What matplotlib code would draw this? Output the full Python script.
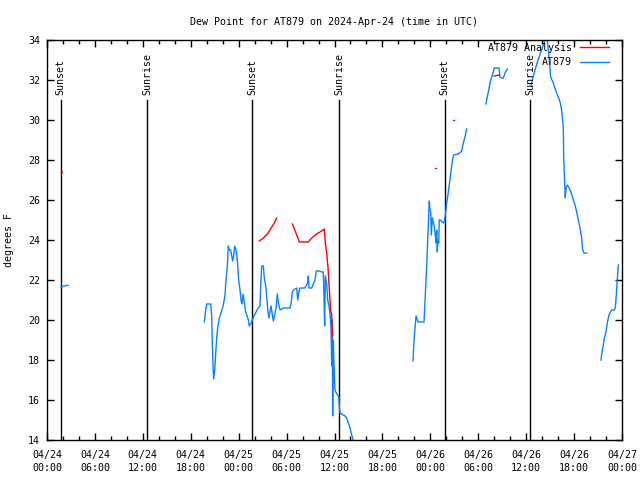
import numpy as np
import pandas as pd
import matplotlib
matplotlib.use('Agg')
import matplotlib.pyplot as plt
import matplotlib.dates as mdates

# Dew point at station AT879, hours are counted from 2024-04-24 00:00 UTC.
# Gaps in the record are kept as separate pieces.
start = pd.Timestamp('2024-04-24 00:00')

obs_hours = [
    [1.75, 2.2, 2.65],
    [19.70, 19.87, 20.00, 20.50, 20.62, 20.70, 20.79, 20.87, 21.00, 21.12,
     21.25, 21.37, 21.58, 21.83, 22.08, 22.29, 22.41, 22.58, 22.70, 22.83,
     23.00, 23.13, 23.25, 23.38, 23.50, 23.67, 23.83, 24.00, 24.17, 24.29,
     24.42, 24.54, 24.67, 24.83, 25.01, 25.21, 25.33, 25.51, 25.71, 25.92,
     26.17, 26.46, 26.67, 26.76, 26.88, 27.09, 27.21, 27.39, 27.55, 27.67,
     27.80, 27.92, 28.05, 28.17, 28.34, 28.51, 28.68, 28.84, 28.96, 29.18,
     29.59, 30.43, 30.55, 30.72, 30.89, 31.27, 31.39, 31.52, 31.68, 32.02,
     32.27, 32.64, 32.72, 32.81, 33.15, 33.35, 33.56, 33.72, 34.10, 34.40,
     34.60, 34.69, 34.77, 34.85, 35.02, 35.15, 35.31, 35.44, 35.56, 35.65,
     35.73, 35.77, 35.85, 35.94, 36.06, 36.28, 36.53, 36.60, 36.69, 36.90,
     37.32, 37.53, 37.73, 37.94, 38.15, 38.28, 38.44],
    [45.83, 45.96, 46.21, 46.46, 47.21, 47.46, 47.55, 47.67, 47.80, 47.87,
     47.96, 48.05, 48.12, 48.25, 48.37, 48.50, 48.62, 48.71, 48.80, 48.87,
     48.96, 49.05, 49.12, 49.30, 49.46, 49.67, 49.80, 49.92, 50.05, 50.17,
     50.30, 50.42, 50.55, 50.67, 50.80, 50.92, 51.50, 51.93, 52.13, 52.34,
     52.55],
    [54.97, 55.13, 55.31, 55.47, 55.68, 55.89, 56.01, 56.60, 56.72, 56.94,
     57.14, 57.35, 57.64],
    [60.61, 61.11, 61.48, 62.11, 62.57, 62.90, 63.07, 63.40, 63.61, 63.82,
     64.07, 64.24, 64.40, 64.53, 64.65, 64.70, 64.83, 64.90, 64.99, 65.15,
     65.40, 65.65, 65.90, 66.11, 66.33, 66.53, 66.74, 66.95, 67.08, 67.24,
     67.58],
    [69.37, 69.50, 69.66, 69.79, 69.96, 70.09, 70.21, 70.37, 70.50, 70.71,
     71.04, 71.17, 71.29, 71.41, 71.54],
]
obs_dewpt = [
    [21.65, 21.7, 21.75],
    [19.9, 20.5, 20.8, 20.8, 20.2, 18.9, 17.7, 17.05, 17.5, 18.3,
     19.1, 19.6, 20.1, 20.4, 20.75, 21.25, 22.0, 22.7, 23.7, 23.5,
     23.5, 23.2, 22.95, 23.25, 23.7, 23.5, 23.0, 22.0, 21.5, 21.0,
     20.8, 21.3, 21.0, 20.5, 20.25, 20.0, 19.7, 19.8, 20.0, 20.2,
     20.4, 20.6, 20.7, 21.7, 22.7, 22.7, 22.1, 21.7, 21.0, 20.4,
     20.1, 20.4, 20.7, 20.4, 19.95, 20.25, 20.6, 21.3, 20.9, 20.5,
     20.6, 20.6, 20.8, 21.4, 21.5, 21.6, 21.0, 21.4, 21.6, 21.6,
     21.6, 21.85, 22.2, 21.6, 21.6, 21.8, 22.0, 22.45, 22.45, 22.4,
     22.4, 21.05, 19.7, 22.2, 21.8, 21.0, 20.7, 20.3, 19.7, 17.7,
     20.0, 15.2, 19.0, 17.7, 16.5, 16.3, 16.2, 15.7, 15.35, 15.3,
     15.2, 15.1, 14.85, 14.6, 14.25, 14.1, 13.8],
    [17.95, 19.0, 20.2, 19.9, 19.9, 22.0, 22.75, 24.0, 25.25, 25.95,
     25.5, 25.4, 24.25, 25.1, 24.9, 24.65, 24.25, 23.85, 24.5, 23.4,
     24.0, 23.85, 25.0, 25.0, 24.9, 24.85, 25.0, 25.4, 25.85, 26.15,
     26.55, 26.9, 27.3, 27.7, 28.05, 28.25, 28.3, 28.45, 28.85, 29.15,
     29.55],
    [30.8, 31.15, 31.5, 31.85, 32.15, 32.4, 32.6, 32.6, 32.15, 32.1,
     32.1, 32.35, 32.55],
    [31.75, 32.5, 33.0, 33.7, 34.3, 33.0, 32.15, 31.85, 31.6, 31.35,
     31.1, 30.9, 30.6, 30.15, 29.6, 28.15, 26.75, 26.1, 26.6, 26.75,
     26.6, 26.35, 26.0, 25.75, 25.4, 25.0, 24.6, 24.1, 23.5, 23.35,
     23.35],
    [18.0, 18.4, 18.75, 19.1, 19.35, 19.65, 19.95, 20.25, 20.35, 20.5,
     20.5, 20.65, 21.25, 22.0, 22.75],
]

ana_hours = [
    [1.75, 1.9],
    [26.58, 27.09, 27.59, 27.84, 28.14, 28.46, 28.76],
    [30.72, 30.97, 31.27, 31.59, 32.72, 33.15, 33.77, 34.40, 34.72, 34.85,
     35.02, 35.19, 35.31, 35.44, 35.52, 35.65, 35.73, 35.77],
    [48.62, 48.75],
    [50.82, 50.94],
    [55.97, 56.64],
]
ana_dewpt = [
    [27.4, 27.4],
    [23.95, 24.1, 24.3, 24.45, 24.65, 24.85, 25.1],
    [24.8, 24.55, 24.25, 23.9, 23.9, 24.1, 24.3, 24.45, 24.55, 23.85,
     23.35, 22.6, 21.8, 21.0, 20.5, 20.25, 19.5, 19.2],
    [27.6, 27.6],
    [30.0, 30.0],
    [32.2, 32.25],
]

sun_hours = [1.72, 12.56, 25.70, 36.60, 49.80, 60.50]
sun_names = ['Sunset', 'Sunrise', 'Sunset', 'Sunrise', 'Sunset', 'Sunrise']


def to_time(h):
    return start + pd.to_timedelta(np.asarray(h), unit='h')


font = 'DejaVu Sans Mono'
fs = 7.2
blue = '#0a80ff'

fig = plt.figure(figsize=(6.4, 4.8), dpi=100)
ax = fig.add_axes([47 / 640, 40 / 480, 575 / 640, 400 / 480])

for i, (h, v) in enumerate(zip(ana_hours, ana_dewpt)):
    ax.plot(to_time(h), v, color='red', lw=1,
            label='AT879 Analysis' if i == 0 else None, zorder=3)
for i, (h, v) in enumerate(zip(obs_hours, obs_dewpt)):
    ax.plot(to_time(h), v, color=blue, lw=1,
            label='AT879' if i == 0 else None, zorder=2)

for h, name in zip(sun_hours, sun_names):
    t = to_time([h])[0]
    ax.plot([t, t], [14, 31], color='black', lw=1, zorder=1)
    ax.text(t, 31.27, name, rotation=90, ha='center', va='bottom',
            family=font, fontsize=fs)

ax.set_xlim(start, start + pd.Timedelta(hours=72))
ax.set_ylim(14, 34)
ax.set_yticks(np.arange(14, 35, 2))
ax.xaxis.set_major_locator(mdates.HourLocator(byhour=[0, 6, 12, 18]))
ax.xaxis.set_minor_locator(mdates.HourLocator(interval=2))
ax.xaxis.set_major_formatter(mdates.DateFormatter('%m/%d\n%H:%M'))
ax.tick_params(which='both', direction='in', top=True, right=True, width=1)
ax.tick_params(axis='x', pad=7)
ax.tick_params(axis='y', pad=5)
ax.tick_params(which='major', length=5)
ax.tick_params(which='minor', length=3)
for lab in ax.get_xticklabels() + ax.get_yticklabels():
    lab.set_family(font)
    lab.set_fontsize(fs)
for lab in ax.get_xticklabels():
    lab.set_linespacing(1.35)
for s in ax.spines.values():
    s.set_linewidth(1)

ax.set_ylabel('degrees F', family=font, fontsize=fs, labelpad=10)
ax.set_title('Dew Point for AT879 on 2024-Apr-24 (time in UTC)',
             family=font, fontsize=fs, pad=11)
ax.legend(loc='upper right', bbox_to_anchor=(1 - 7 / 575, 1 + 3 / 400),
          markerfirst=False, frameon=False, handlelength=2.9,
          borderaxespad=0.2, labelspacing=0.45,
          prop={'family': font, 'size': fs})

fig.savefig('out.png', dpi=100)
plt.close(fig)
